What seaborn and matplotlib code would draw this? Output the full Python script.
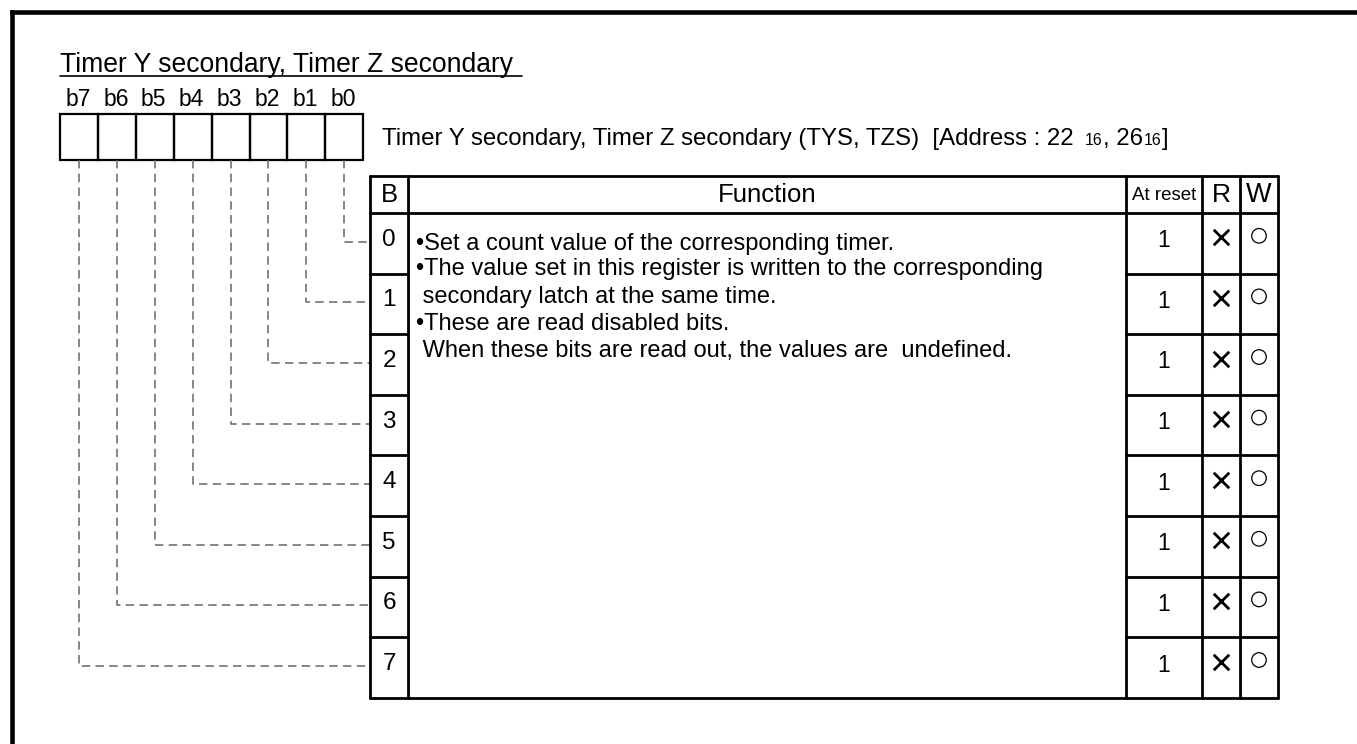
import matplotlib
matplotlib.use("Agg")
import matplotlib.pyplot as plt
import seaborn as sns
import pandas as pd

# register description
title = "Timer Y secondary, Timer Z secondary "
bit_labels = ["b7", "b6", "b5", "b4", "b3", "b2", "b1", "b0"]
reg_parts = [("Timer Y secondary, Timer Z secondary (TYS, TZS)  [Address : 22", "big"),
             ("16", "small"),
             (", 26", "big"),
             ("16", "small"),
             ("]", "big")]
headers = ["B", "Function", "At reset", "R", "W"]
bits = [0, 1, 2, 3, 4, 5, 6, 7]
reset_values = ["1", "1", "1", "1", "1", "1", "1", "1"]
read_ok = [False, False, False, False, False, False, False, False]
write_ok = [True, True, True, True, True, True, True, True]
function_lines = ["\u2022Set a count value of the corresponding timer.",
                  "\u2022The value set in this register is written to the corresponding",
                  " secondary latch at the same time.",
                  "\u2022These are read disabled bits.",
                  " When these bits are read out, the values are  undefined."]

# layout (pixel units)
W, H = 1357, 744
cell_x0, cell_w, cell_top, cell_bot = 60, 37.9, 114, 160
cols = [370, 408, 1126, 1202, 1240, 1278]
tab_top, head_bot, row_h = 176, 213, 60.6
n = len(bits)
tab_bot = head_bot + row_h * n
line_baselines = [250, 275.5, 302.5, 330, 357]

sns.set_theme(style="white")
plt.rcParams["font.family"] = ["Liberation Sans", "DejaVu Sans"]
plt.rcParams["text.color"] = "black"

fig = plt.figure(figsize=(W / 100, H / 100), dpi=100)
ax = fig.add_axes([0, 0, 1, 1])
ax.set_xlim(0, W)
ax.set_ylim(H, 0)
ax.axis("off")

# page frame (left and top)
ax.plot([11.7, 11.7], [H + 5, 11.7], color="black", lw=3.3, solid_capstyle="projecting")
ax.plot([11.7, W + 5], [11.7, 11.7], color="black", lw=3.3, solid_capstyle="projecting")

# title
ax.text(60, 72, title, fontsize=19.1, ha="left", va="baseline")
ax.plot([60, 522], [76, 76], color="black", lw=1.2)

# bit boxes
for k, lab in enumerate(bit_labels):
    x0 = cell_x0 + k * cell_w
    ax.add_patch(plt.Rectangle((x0, cell_top), cell_w, cell_bot - cell_top,
                               fill=False, ec="black", lw=1.6))
    ax.text(x0 + cell_w / 2 - 1, 106, lab, fontsize=16.5, ha="center", va="baseline")

# register name with subscripts
fig.canvas.draw()
renderer = fig.canvas.get_renderer()
x = 382
inv = ax.transData.inverted()
for i, (txt, kind) in enumerate(reg_parts):
    fs = 17.3 if kind == "big" else 11.5
    if kind == "small" and i == 1:
        x += 11
    t = ax.text(x, 145, txt, fontsize=fs, ha="left", va="baseline")
    bb = t.get_window_extent(renderer)
    x = inv.transform((bb.x1, bb.y0))[0] + (1 if kind == "small" else 0)

# leader lines from each bit to its row
def row_center(b):
    return head_bot + row_h * (b + 0.5)

for b in bits:
    k = 7 - b
    xc = cell_x0 + cell_w * (k + 0.5)
    yc = row_center(b) - 1.5
    ax.plot([xc, xc, cols[0]], [cell_bot, yc, yc], color="#666666", lw=1.1,
            dashes=(5.5, 3.5))

# table
lw = 2.0
ax.plot([cols[0], cols[-1]], [tab_top, tab_top], color="black", lw=lw)
ax.plot([cols[0], cols[-1]], [head_bot, head_bot], color="black", lw=lw)
ax.plot([cols[0], cols[-1]], [tab_bot, tab_bot], color="black", lw=lw)
for cx in cols:
    ax.plot([cx, cx], [tab_top, tab_bot], color="black", lw=lw)
for b in bits[1:]:
    y = head_bot + row_h * b
    ax.plot([cols[0], cols[1]], [y, y], color="black", lw=lw)
    ax.plot([cols[2], cols[5]], [y, y], color="black", lw=lw)

head_sizes = [18.5, 18.5, 13.5, 19, 19.5]
for i, (h, fs) in enumerate(zip(headers, head_sizes)):
    ax.text((cols[i] + cols[i + 1]) / 2, (tab_top + head_bot) / 2 + 1, h,
            fontsize=fs, ha="center", va="center")

for b, rv in zip(bits, reset_values):
    yc = row_center(b)
    ax.text((cols[0] + cols[1]) / 2, yc - 3.5, str(b), fontsize=17.5, ha="center", va="center")
    ax.text((cols[2] + cols[3]) / 2, yc - 2.5, rv, fontsize=16.5, ha="center", va="center")

for y, line in zip(line_baselines, function_lines):
    ax.text(416, y, line, fontsize=17.0, ha="left", va="baseline")

# read / write marks
df = pd.DataFrame({"bit": bits, "read": read_ok, "write": write_ok})
df["y"] = [row_center(b) for b in bits]
r_x = (cols[3] + cols[4]) / 2
w_x = (cols[4] + cols[5]) / 2
no_read = df[~df["read"]]
sns.scatterplot(x=[r_x] * len(no_read), y=no_read["y"] - 6, marker="x", s=125,
                color="black", linewidth=2.0, ax=ax, legend=False)
yes_write = df[df["write"]]
ax.scatter([w_x] * len(yes_write), yes_write["y"] - 7.5, marker="o", s=110,
           facecolors="none", edgecolors="black", linewidths=0.9)

ax.set_xlim(0, W)
ax.set_ylim(H, 0)
fig.savefig("out.png", dpi=100)
